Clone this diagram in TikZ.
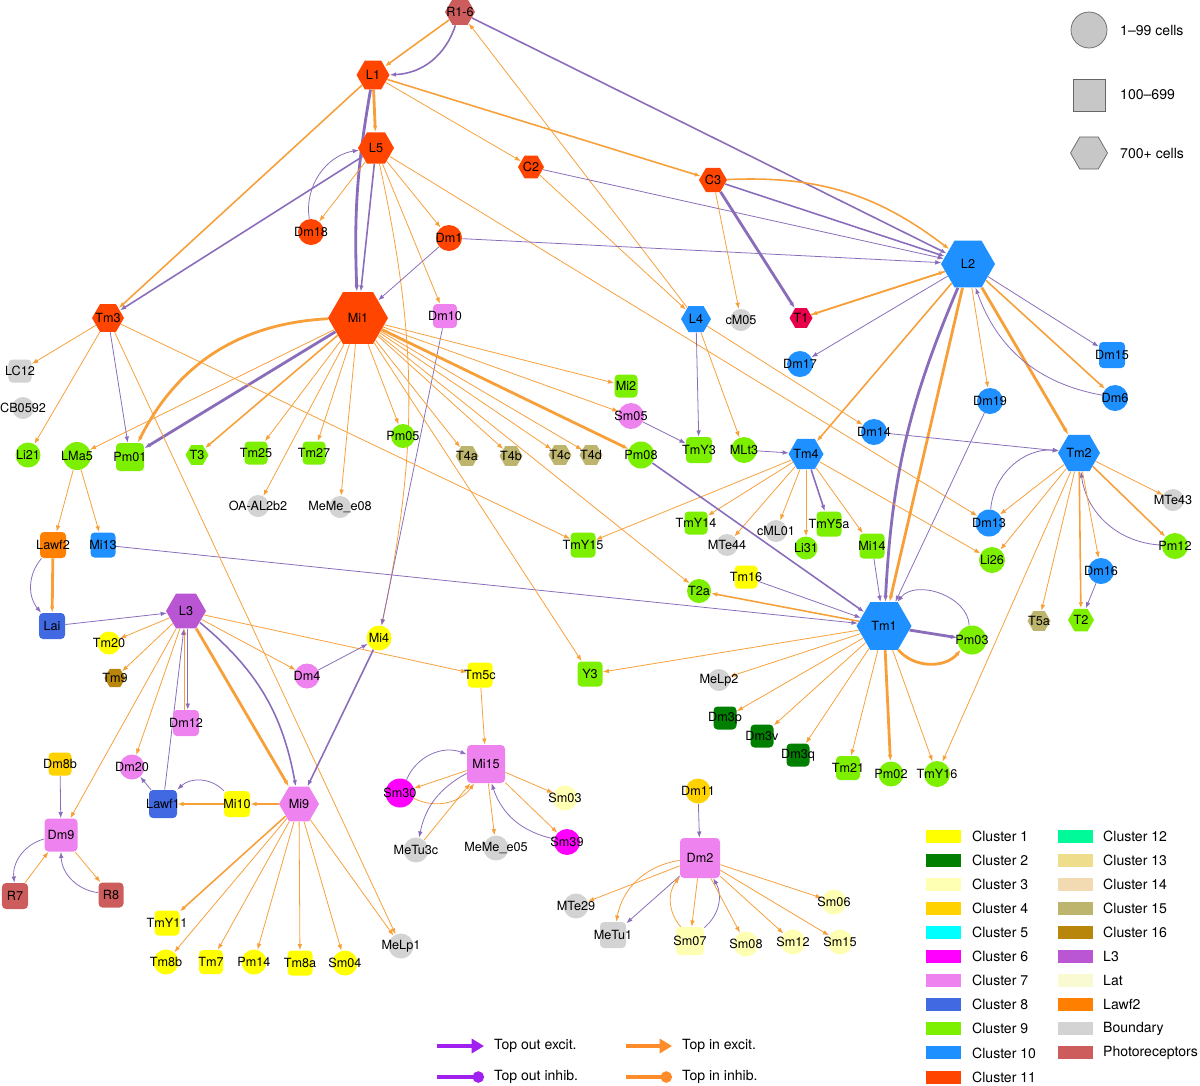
\documentclass[tikz,border=0pt]{standalone}
\usepackage{fontspec}
\setmainfont{TeX Gyre Heros}
\usetikzlibrary{shapes.geometric, arrows.meta}
\usetikzlibrary{backgrounds}
\definecolor{cl1}{HTML}{FFFF00}
\definecolor{cl2}{HTML}{007F00}
\definecolor{cl3}{HTML}{FFFFB3}
\definecolor{cl4}{HTML}{FFD200}
\definecolor{cl5}{HTML}{00FFFF}
\definecolor{cl6}{HTML}{FF00FF}
\definecolor{cl7}{HTML}{EE82EE}
\definecolor{cl8}{HTML}{4169E1}
\definecolor{cl9}{HTML}{7CF000}
\definecolor{cl10}{HTML}{1E90FF}
\definecolor{cl11}{HTML}{FF4500}
\definecolor{cl12}{HTML}{00FA9A}
\definecolor{cl13}{HTML}{EEDD8A}
\definecolor{cl14}{HTML}{F2DAB2}
\definecolor{cl15}{HTML}{BDB46E}
\definecolor{cl16}{HTML}{B8860B}
\definecolor{clL3}{HTML}{BA55D3}
\definecolor{clLat}{HTML}{FAFAD2}
\definecolor{clLawf}{HTML}{FF8000}
\definecolor{clBnd}{HTML}{D3D3D3}
\definecolor{clPhoto}{HTML}{CD5C5C}
\definecolor{clT1}{HTML}{E8004B}
\definecolor{purp}{HTML}{8A6DBA}
\definecolor{orng}{HTML}{F7A03A}
\definecolor{legpurp}{HTML}{A020F0}
\definecolor{legorng}{HTML}{FF8C2A}
\tikzstyle{cir} = [circle, inner sep=0pt, minimum size=5.2mm]
\tikzstyle{sq} = [rectangle, rounded corners=0.8mm, inner sep=0pt, minimum size=5mm]
\tikzstyle{hex} = [regular polygon, regular polygon sides=6, inner sep=0pt, minimum size=6.4mm]
\tikzstyle{oin} = [draw=orng, line width=0.45pt, -{Latex[length=3.5pt,width=2.6pt]}]
\tikzstyle{pout} = [draw=purp, line width=0.45pt, -{Latex[length=3.5pt,width=2.6pt]}]
\tikzstyle{med} = [line width=0.9pt]
\tikzstyle{thk} = [line width=1.6pt]
\tikzstyle{swatch} = [rectangle, inner sep=0pt, minimum width=7mm, minimum height=2.6mm]
\tikzstyle{legtext} = [anchor=west, font=\fontsize{8}{9}\selectfont]

\begin{document}
\begin{tikzpicture}[x=0.2mm, y=-0.2mm, font=\fontsize{7.2}{8}\selectfont]
\useasboundingbox (0,0) rectangle (1200,1085);

% lamina and top
\node [hex, fill=clPhoto, minimum size=6mm, label=center:R1-6] (R16) at (460,12) {};
\node [hex, fill=cl11, minimum size=6.6mm, label=center:L1] (L1) at (373,75) {};
\node [hex, fill=cl11, minimum size=7.2mm, label=center:L5] (L5) at (376,148) {};
\node [hex, fill=cl11, minimum size=5.2mm, label=center:C2] (C2) at (531,167) {};
\node [hex, fill=cl11, minimum size=5.6mm, label=center:C3] (C3) at (713,180) {};
\node [cir, fill=cl11, label=center:Dm18] (Dm18) at (311,232) {};
\node [cir, fill=cl11, label=center:Dm1] (Dm1) at (449,238) {};
\node [hex, fill=cl11, minimum size=12mm, label=center:Mi1] (Mi1) at (358,318) {};
\node [sq, fill=cl7, minimum size=4.8mm, label=center:Dm10] (Dm10) at (445,316) {};
\node [hex, fill=cl11, label=center:Tm3] (Tm3) at (108,318) {};
\node [hex, fill=cl10, minimum size=10.8mm, label=center:L2] (L2) at (968,264) {};
\node [hex, fill=cl10, minimum size=6mm, label=center:L4] (L4) at (696,319) {};
\node [cir, fill=clBnd, minimum size=4.4mm, label=center:cM05] (cM05) at (741,320) {};
\node [hex, fill=clT1, minimum size=4.6mm, label=center:T1] (T1) at (801,318) {};

% right group
\node [cir, fill=cl10, label=center:Dm17] (Dm17) at (800,364) {};
\node [sq, fill=cl10, minimum size=5.2mm, label=center:Dm15] (Dm15) at (1112,355) {};
\node [cir, fill=cl10, label=center:Dm19] (Dm19) at (990,401) {};
\node [cir, fill=cl10, label=center:Dm6] (Dm6) at (1115,398) {};
\node [cir, fill=cl10, label=center:Dm14] (Dm14) at (874,432) {};
\node [hex, fill=cl10, minimum size=7mm, label=center:Tm4] (Tm4) at (806,454) {};
\node [hex, fill=cl10, minimum size=8.4mm, label=center:Tm2] (Tm2) at (1079,453) {};
\node [cir, fill=clBnd, minimum size=4.4mm, label=center:MTe43] (MTe43) at (1173,500) {};
\node [cir, fill=cl10, minimum size=5.4mm, label=center:Dm13] (Dm13) at (989,523) {};
\node [cir, fill=cl9, label=center:Pm12] (Pm12) at (1175,546) {};
\node [cir, fill=cl9, label=center:Li26] (Li26) at (992,560) {};
\node [cir, fill=cl10, label=center:Dm16] (Dm16) at (1101,571) {};
\node [hex, fill=cl15, minimum size=4.6mm, label=center:T5a] (T5a) at (1039,621) {};
\node [hex, fill=cl9, minimum size=5.2mm, label=center:T2] (T2) at (1081,620) {};
\node [hex, fill=cl10, minimum size=11mm, label=center:Tm1] (Tm1) at (884,626) {};
\node [cir, fill=cl9, minimum size=5.8mm, label=center:Pm03] (Pm03) at (972,640) {};

% Mi1 row
\node [sq, fill=clBnd, minimum size=4.6mm, label=center:LC12] (LC12) at (20,371) {};
\node [cir, fill=clBnd, minimum size=4.4mm, label=center:CB0592] (CB0592) at (23,408) {};
\node [cir, fill=cl9, minimum size=5mm, label=center:Li21] (Li21) at (28,455) {};
\node [cir, fill=cl9, minimum size=5.6mm, label=center:LMa5] (LMa5) at (77,456) {};
\node [sq, fill=cl9, minimum size=5.6mm, label=center:Pm01] (Pm01) at (130,457) {};
\node [hex, fill=cl9, minimum size=4.6mm, label=center:T3] (T3) at (197,455) {};
\node [sq, fill=cl9, minimum size=4.6mm, label=center:Tm25] (Tm25) at (256,453) {};
\node [sq, fill=cl9, minimum size=4.6mm, label=center:Tm27] (Tm27) at (314,453) {};
\node [cir, fill=cl9, minimum size=4.8mm, label=center:Pm05] (Pm05) at (403,436) {};
\node [sq, fill=cl9, minimum size=4.6mm, label=center:Mi2] (Mi2) at (626,386) {};
\node [cir, fill=cl7, label=center:Sm05] (Sm05) at (631,416) {};
\node [hex, fill=cl15, minimum size=4.6mm, label=center:T4a] (T4a) at (467,456) {};
\node [hex, fill=cl15, minimum size=4.6mm, label=center:T4b] (T4b) at (511,456) {};
\node [hex, fill=cl15, minimum size=4.6mm, label=center:T4c] (T4c) at (560,455) {};
\node [hex, fill=cl15, minimum size=4.6mm, label=center:T4d] (T4d) at (591,455) {};
\node [cir, fill=cl9, minimum size=5.4mm, label=center:Pm08] (Pm08) at (641,455) {};
\node [sq, fill=cl9, minimum size=5.2mm, label=center:TmY3] (TmY3) at (699,450) {};
\node [cir, fill=cl9, label=center:MLt3] (MLt3) at (744,450) {};
\node [cir, fill=clBnd, minimum size=4.4mm, label=center:OA-AL2b2] (OAAL) at (258,506) {};
\node [cir, fill=clBnd, minimum size=4.4mm, label=center:MeMe\_e08] (MeMee08) at (340,507) {};
\node [sq, fill=cl9, minimum size=4.6mm, label=center:TmY14] (TmY14) at (696,523) {};
\node [cir, fill=clBnd, minimum size=4.4mm, label=center:MTe44] (MTe44) at (727,545) {};
\node [cir, fill=clBnd, minimum size=4.4mm, label=center:cML01] (cML01) at (776,531) {};
\node [sq, fill=cl9, label=center:TmY5a] (TmY5a) at (829,524) {};
\node [cir, fill=cl9, minimum size=4.6mm, label=center:Li31] (Li31) at (806,548) {};
\node [sq, fill=cl9, label=center:Mi14] (Mi14) at (872,546) {};
\node [sq, fill=cl9, label=center:TmY15] (TmY15) at (583,545) {};
\node [sq, fill=cl1, minimum size=4.6mm, label=center:Tm16] (Tm16) at (746,577) {};
\node [cir, fill=cl9, minimum size=4.8mm, label=center:T2a] (T2a) at (699,591) {};

% left lower group
\node [sq, fill=clLawf, minimum size=5.2mm, label=center:Lawf2] (Lawf2) at (53,545) {};
\node [sq, fill=cl10, label=center:Mi13] (Mi13) at (103,545) {};
\node [sq, fill=cl8, minimum size=5.2mm, label=center:Lai] (Lai) at (52,626) {};
\node [hex, fill=clL3, minimum size=8mm, label=center:L3] (L3) at (186,611) {};
\node [cir, fill=cl1, minimum size=4.6mm, label=center:Tm20] (Tm20) at (109,643) {};
\node [hex, fill=cl16, minimum size=4.2mm, label=center:Tm9] (Tm9) at (115,678) {};
\node [cir, fill=cl1, minimum size=5mm, label=center:Mi4] (Mi4) at (379,638) {};
\node [cir, fill=cl7, minimum size=5mm, label=center:Dm4] (Dm4) at (307,676) {};
\node [sq, fill=cl1, label=center:Tm5c] (Tm5c) at (480,675) {};
\node [sq, fill=cl9, label=center:Y3] (Y3) at (590,674) {};
\node [cir, fill=clBnd, minimum size=4.4mm, label=center:MeLp2] (MeLp2) at (719,680) {};
\node [sq, fill=cl7, minimum size=5.2mm, label=center:Dm12] (Dm12) at (186,723) {};
\node [sq, fill=cl2, minimum size=4.6mm, label=center:Dm3p] (Dm3p) at (725,718) {};
\node [sq, fill=cl2, minimum size=4.6mm, label=center:Dm3v] (Dm3v) at (762,736) {};
\node [sq, fill=cl2, minimum size=4.6mm, label=center:Dm3q] (Dm3q) at (798,755) {};
\node [sq, fill=cl4, minimum size=4.6mm, label=center:Dm8b] (Dm8b) at (60,764) {};
\node [cir, fill=cl7, minimum size=5mm, label=center:Dm20] (Dm20) at (132,767) {};
\node [sq, fill=cl7, minimum size=7.6mm, label=center:Mi15] (Mi15) at (486,764) {};
\node [cir, fill=cl6, minimum size=5.8mm, label=center:Sm30] (Sm30) at (400,793) {};
\node [cir, fill=cl3, minimum size=5mm, label=center:Sm03] (Sm03) at (565,798) {};
\node [cir, fill=cl4, minimum size=5mm, label=center:Dm11] (Dm11) at (698,791) {};
\node [sq, fill=cl8, minimum size=5.6mm, label=center:Lawf1] (Lawf1) at (163,804) {};
\node [sq, fill=cl1, minimum size=5.2mm, label=center:Mi10] (Mi10) at (237,804) {};
\node [hex, fill=cl7, minimum size=8mm, label=center:Mi9] (Mi9) at (299,804) {};
\node [sq, fill=cl7, minimum size=6.6mm, label=center:Dm9] (Dm9) at (61,835) {};
\node [sq, fill=cl9, minimum size=4.8mm, label=center:Tm21] (Tm21) at (848,768) {};
\node [cir, fill=cl9, minimum size=5mm, label=center:Pm02] (Pm02) at (891,774) {};
\node [cir, fill=cl9, label=center:TmY16] (TmY16) at (937,774) {};
\node [cir, fill=clBnd, minimum size=5mm, label=center:MeTu3c] (MeTu3c) at (416,850) {};
\node [cir, fill=clBnd, minimum size=5mm, label=center:MeMe\_e05] (MeMee05) at (496,848) {};
\node [cir, fill=cl6, label=center:Sm39] (Sm39) at (567,842) {};
\node [sq, fill=cl7, minimum size=8mm, label=center:Dm2] (Dm2) at (700,858) {};
\node [sq, fill=clPhoto, minimum size=5.2mm, label=center:R7] (R7) at (15,896) {};
\node [sq, fill=clPhoto, label=center:R8] (R8) at (111,895) {};
\node [cir, fill=clBnd, minimum size=5mm, label=center:MTe29] (MTe29) at (576,906) {};
\node [cir, fill=cl3, minimum size=5mm, label=center:Sm06] (Sm06) at (834,902) {};
\node [sq, fill=cl1, label=center:TmY11] (TmY11) at (167,923) {};
\node [sq, fill=clBnd, minimum size=5.2mm, label=center:MeTu1] (MeTu1) at (613,935) {};
\node [sq, fill=cl3, minimum size=5.6mm, label=center:Sm07] (Sm07) at (690,941) {};
\node [cir, fill=cl3, minimum size=5mm, label=center:Sm08] (Sm08) at (746,944) {};
\node [cir, fill=cl3, minimum size=5mm, label=center:Sm12] (Sm12) at (793,942) {};
\node [cir, fill=cl3, minimum size=5mm, label=center:Sm15] (Sm15) at (840,942) {};
\node [cir, fill=cl1, minimum size=5mm, label=center:Tm8b] (Tm8b) at (166,962) {};
\node [sq, fill=cl1, minimum size=4.8mm, label=center:Tm7] (Tm7) at (211,962) {};
\node [cir, fill=cl1, minimum size=5mm, label=center:Pm14] (Pm14) at (254,962) {};
\node [sq, fill=cl1, label=center:Tm8a] (Tm8a) at (300,963) {};
\node [cir, fill=cl1, minimum size=5mm, label=center:Sm04] (Sm04) at (345,963) {};
\node [cir, fill=clBnd, minimum size=5mm, label=center:MeLp1] (MeLp1) at (401,946) {};

\begin{pgfonlayer}{background}
% photoreceptors and lamina
\path [oin, med] (R16) -- (L1);
\path [pout, med] (R16) to[bend left=35] (L1);
\path [pout, med] (R16) -- (L2);
\path [oin] (L4) -- (R16);
\path [oin, thk] (L1) -- (L5);
\path [pout, thk] (L1) to[bend right=6] (Mi1);
\path [oin, med] (L1) -- (Tm3);
\path [oin] (L1) -- (C2);
\path [oin, med] (L1) -- (C3);
\path [pout, med] (L5) -- (Mi1);
\path [oin] (L5) -- (Dm18);
\path [pout] (Dm18) to[bend left=45] (L5);
\path [pout, med] (L5) -- (Tm3);
\path [oin] (L5) -- (Dm1);
\path [oin] (L5) -- (Dm10);
\path [oin] (L5) to[bend left=12] (Mi4);
\path [oin] (L5) -- (Dm13);
\path [pout] (C2) -- (L2);
\path [oin] (C2) -- (L4);
\path [pout, med] (C3) -- (L2);
\path [oin, med] (C3) to[bend left=20] (L2);
\path [pout, thk] (C3) -- (T1);
\path [oin] (C3) -- (cM05);
\path [pout] (Dm1) -- (L2);
\path [pout] (Dm1) -- (Mi1);
\path [pout] (Dm10) -- (Mi4);
% L2 and Tm2
\path [oin, med] (L2) -- (T1);
\path [oin, med] (T1) -- (L2);
\path [pout] (L2) -- (Dm17);
\path [oin, med] (L2) -- (Tm4);
\path [pout, thk] (L2) to[bend right=10] (Tm1);
\path [oin, thk] (L2) -- (Tm1);
\path [oin] (L2) -- (Dm19);
\path [oin, thk] (L2) -- (Tm2);
\path [oin, med] (L2) -- (Dm6);
\path [pout] (Dm6) to[bend left=30] (L2);
\path [pout] (L2) -- (Dm15);
\path [pout] (Dm19) -- (Tm1);
\path [pout] (Dm14) -- (Tm2);
\path [oin] (Tm2) -- (Dm13);
\path [pout] (Dm13) to[bend left=45] (Tm2);
\path [oin] (Tm2) -- (Li26);
\path [oin] (Tm2) -- (MTe43);
\path [oin, med] (Tm2) -- (Pm12);
\path [pout] (Pm12) to[bend left=40] (Tm2);
\path [oin] (Tm2) -- (Dm16);
\path [oin, med] (Tm2) -- (T2);
\path [oin] (Tm2) -- (T5a);
\path [oin] (Tm2) -- (TmY16);
\path [pout] (Dm16) -- (T2);
% L4 and Tm4
\path [pout] (L4) -- (TmY3);
\path [oin] (L4) -- (MLt3);
\path [oin] (L4) -- (Dm14);
\path [pout] (Sm05) -- (TmY3);
\path [pout] (MLt3) -- (Tm4);
\path [oin] (Tm4) -- (TmY14);
\path [oin] (Tm4) -- (MTe44);
\path [oin] (Tm4) -- (cML01);
\path [oin] (Tm4) -- (Li31);
\path [pout, med] (Tm4) -- (TmY5a);
\path [oin] (Tm4) -- (Mi14);
\path [oin] (Tm4) -- (Li26);
\path [oin] (Tm4) -- (TmY15);
\path [pout] (Mi14) -- (Tm1);
% Tm1
\path [pout] (Tm16) -- (Tm1);
\path [pout, med] (Pm08) -- (Tm1);
\path [pout] (Mi13) -- (Tm1);
\path [oin, med] (Tm1) -- (T2a);
\path [pout, thk] (Tm1) -- (Pm03);
\path [oin, thk] (Tm1) to[bend right=50] (Pm03);
\path [pout] (Pm03) to[bend right=70] (Tm1);
\path [oin] (Tm1) -- (Y3);
\path [oin] (Tm1) -- (MeLp2);
\path [oin] (Tm1) -- (Dm3p);
\path [oin] (Tm1) -- (Dm3v);
\path [oin] (Tm1) -- (Dm3q);
\path [oin] (Tm1) -- (Tm21);
\path [oin, thk] (Tm1) -- (Pm02);
\path [oin] (Tm1) -- (TmY16);
% Mi1
\path [pout, thk] (Mi1) -- (Pm01);
\path [oin, thk] (Mi1) to[bend right=30] (Pm01);
\path [oin] (Mi1) -- (LMa5);
\path [oin, med] (Mi1) -- (T3);
\path [oin] (Mi1) -- (Tm25);
\path [oin] (Mi1) -- (Tm27);
\path [oin] (Mi1) -- (OAAL);
\path [oin] (Mi1) -- (MeMee08);
\path [oin] (Mi1) -- (Pm05);
\path [oin] (Mi1) -- (T4a);
\path [oin] (Mi1) -- (T4b);
\path [oin] (Mi1) -- (T4c);
\path [oin] (Mi1) -- (T4d);
\path [oin, thk] (Mi1) -- (Pm08);
\path [oin] (Mi1) -- (Sm05);
\path [oin] (Mi1) -- (Mi2);
\path [oin] (Mi1) -- (T2a);
\path [oin] (Mi1) -- (Y3);
% Tm3
\path [oin] (Tm3) -- (LC12);
\path [oin] (Tm3) -- (Li21);
\path [pout] (Tm3) -- (Pm01);
\path [oin] (Tm3) -- (MeLp1);
\path [oin] (Tm3) -- (TmY15);
\path [oin] (LMa5) -- (Lawf2);
\path [oin] (LMa5) -- (Mi13);
\path [oin, thk] (Lawf2) -- (Lai);
\path [pout] (Lawf2) to[bend right=40] (Lai);
% L3 and Mi9
\path [pout] (Lai) -- (L3);
\path [oin] (L3) -- (Tm20);
\path [oin] (L3) -- (Tm9);
\path [oin] (L3) -- (Dm20);
\path [oin] (L3) -- (Dm9);
\path [oin] (L3) -- (Dm4);
\path [oin] (L3) -- (Tm5c);
\path [pout] ([xshift=1pt]L3.south) -- ([xshift=1pt]Dm12.north);
\path [oin] ([xshift=-1pt]Dm12.north) -- ([xshift=-1pt]L3.south);
\path [oin, thk] (L3) -- (Mi9);
\path [pout, med] (L3) to[bend left=20] (Mi9);
\path [pout] (Lawf1) -- (L3);
\path [pout] (Lawf1) -- (Dm20);
\path [oin, med] (Mi10) -- (Lawf1);
\path [pout] (Mi10) to[bend right=45] (Lawf1);
\path [oin, med] (Mi9) -- (Mi10);
\path [pout, med] (Mi4) -- (Mi9);
\path [pout] (Dm4) -- (Mi4);
\path [oin, med] (Mi9) -- (TmY11);
\path [oin] (Mi9) -- (Tm8b);
\path [oin] (Mi9) -- (Tm7);
\path [oin] (Mi9) -- (Pm14);
\path [oin] (Mi9) -- (Tm8a);
\path [oin] (Mi9) -- (Sm04);
\path [oin] (Mi9) -- (MeLp1);
\path [pout] (Dm8b) -- (Dm9);
\path [pout] (Dm9) to[bend right=40] (R7);
\path [oin] (R7) -- (Dm9);
\path [oin] (Dm9) -- (R8);
\path [pout] (R8) to[bend left=40] (Dm9);
% Mi15
\path [oin] (Tm5c) -- (Mi15);
\path [oin] (Mi15) -- (Sm30);
\path [pout] (Sm30) to[bend left=45] (Mi15);
\path [oin] (Sm30) to[bend right=40] (Mi15);
\path [pout] (Mi15) to[bend right=25] (MeTu3c);
\path [oin] (MeTu3c) -- (Mi15);
\path [oin] (Mi15) -- (MeMee05);
\path [oin] (Mi15) -- (Sm03);
\path [oin] (Mi15) -- (Sm39);
\path [pout] (Sm39) to[bend left=30] (Mi15);
% Dm2
\path [pout] (Dm11) -- (Dm2);
\path [oin] (Dm2) -- (MTe29);
\path [oin] (Dm2) to[bend right=35] (MeTu1);
\path [pout] (Dm2) -- (MeTu1);
\path [oin] (Dm2) -- (Sm07);
\path [oin] (Sm07) to[bend left=40] (Dm2);
\path [pout] (Sm07) to[bend right=40] (Dm2);
\path [oin] (Dm2) -- (Sm08);
\path [oin] (Dm2) -- (Sm12);
\path [oin] (Dm2) -- (Sm15);
\path [oin] (Dm2) -- (Sm06);
\end{pgfonlayer}

% size legend
\node [circle, draw=black!60, fill=black!22, minimum size=7.2mm, inner sep=0pt] (kcir) at (1089,30) {};
\node [rectangle, draw=black!60, fill=black!22, minimum size=6.4mm, inner sep=0pt] (ksq) at (1089,95) {};
\node [regular polygon, regular polygon sides=6, draw=black!60, fill=black!22, minimum size=7.4mm, inner sep=0pt] (khex) at (1089,153) {};
\node [legtext] at (1114,30) {1–99 cells};
\node [legtext] at (1114,95) {100–699};
\node [legtext] at (1114,153) {700+ cells};

% edge legend
\coordinate (ka1) at (437,1046); \coordinate (kb1) at (484,1046);
\coordinate (ka2) at (437,1077); \coordinate (kb2) at (484,1077);
\coordinate (ka3) at (626,1046); \coordinate (kb3) at (672,1046);
\coordinate (ka4) at (626,1077); \coordinate (kb4) at (672,1077);
\draw [legpurp, line width=1.8pt, -{Triangle[length=7pt,width=8pt]}] (ka1) -- (kb1);
\draw [legpurp, line width=1.8pt, -{Circle[length=6.5pt]}] (ka2) -- (kb2);
\draw [legorng, line width=1.8pt, -{Triangle[length=7pt,width=8pt]}] (ka3) -- (kb3);
\draw [legorng, line width=1.8pt, -{Circle[length=6.5pt]}] (ka4) -- (kb4);
\node [legtext] at (488,1046) {Top out excit.};
\node [legtext] at (488,1077) {Top out inhib.};
\node [legtext] at (676,1046) {Top in excit.};
\node [legtext] at (676,1077) {Top in inhib.};

% colour legend
\foreach \c/\t [count=\i from 0] in {cl1/Cluster 1, cl2/Cluster 2, cl3/Cluster 3, cl4/Cluster 4, cl5/Cluster 5, cl6/Cluster 6, cl7/Cluster 7, cl8/Cluster 8, cl9/Cluster 9, cl10/Cluster 10, cl11/Cluster 11}
{
  \node [swatch, fill=\c] at (943,836+24.1*\i) {};
  \node [legtext] at (966,836+24.1*\i) {\t};
}
\foreach \c/\t [count=\i from 0] in {cl12/Cluster 12, cl13/Cluster 13, cl14/Cluster 14, cl15/Cluster 15, cl16/Cluster 16, clL3/L3, clLat/Lat, clLawf/Lawf2, clBnd/Boundary, clPhoto/Photoreceptors}
{
  \node [swatch, fill=\c] at (1075,836+24.1*\i) {};
  \node [legtext] at (1097,836+24.1*\i) {\t};
}
\end{tikzpicture}
\end{document}
